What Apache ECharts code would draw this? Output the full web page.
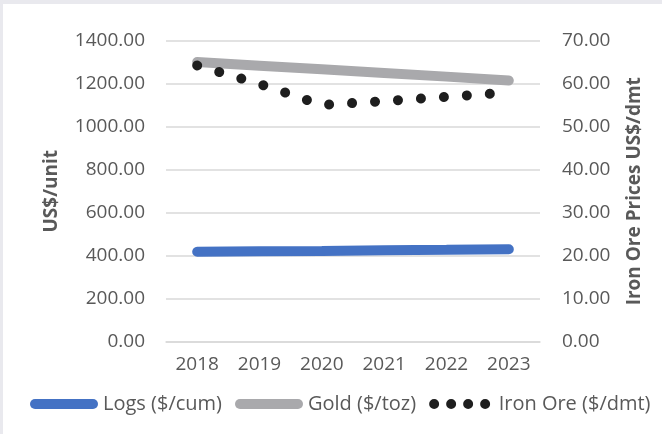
<!DOCTYPE html>
<html>
<head>
<meta charset="utf-8">
<script src="https://cdn.jsdelivr.net/npm/echarts@6/dist/echarts.min.js"></script>
<style>
  html, body { margin: 0; padding: 0; background: #e9e9ee; }
  #chart { position: absolute; left: 3px; top: 4px; width: 659px; height: 430px; background: #fff; }
</style>
</head>
<body>
<div id="chart"></div>
<script>
  // values
  var years = ['2018', '2019', '2020', '2021', '2022', '2023'];
  var logs = [418, 420, 422, 425, 427, 430];
  var gold = [1302, 1285, 1268, 1251, 1234, 1216];
  var ironOre = [64.3, 60.0, 55.1, 56.0, 57.0, 58.0];

  var myChart = echarts.init(document.getElementById('chart'));
  var labelColor = '#595959';
  var font = 'Open Sans';

  // legend icons: a pill for the solid lines, four dots for the dotted one
  var pillIcon = 'path://M5,0 H63 A5,5 0 0 1 63,10 H5 A5,5 0 0 1 5,0 Z';
  var dotsIcon = 'path://M0,5 A5,5 0 1 0 10,5 A5,5 0 1 0 0,5 Z' +
    'M17,5 A5,5 0 1 0 27,5 A5,5 0 1 0 17,5 Z' +
    'M34,5 A5,5 0 1 0 44,5 A5,5 0 1 0 34,5 Z' +
    'M51,5 A5,5 0 1 0 61,5 A5,5 0 1 0 51,5 Z';

  var option = {
    textStyle: { fontFamily: font },
    animation: false,
    grid: { left: 163, right: 122, top: 37, bottom: 92.5 },
    legend: {
      left: 27, top: 390, width: 640,
      padding: 0,
      itemWidth: 68, itemHeight: 10, itemGap: 13,
      textStyle: { color: labelColor, fontSize: 20, fontFamily: font },
      data: [
        { name: 'Logs ($/cum)', icon: pillIcon },
        { name: 'Gold ($/toz)', icon: pillIcon },
        { name: 'Iron Ore ($/dmt)', icon: dotsIcon }
      ]
    },
    xAxis: [{
      type: 'category',
      data: years,
      axisLine: { lineStyle: { color: '#d9d9d9', width: 1.5 } },
      axisTick: { show: false },
      axisLabel: { color: labelColor, fontSize: 19, margin: 14 }
    }],
    yAxis: [
      {
        type: 'value', min: 0, max: 1400, interval: 200,
        name: 'US$/unit', nameLocation: 'middle', nameGap: 105,
        nameTextStyle: { color: labelColor, fontSize: 19, fontWeight: 'bold' },
        axisLine: { show: false }, axisTick: { show: false },
        splitLine: { lineStyle: { color: '#d9d9d9', width: 1.5 } },
        axisLabel: { color: labelColor, fontSize: 19, margin: 21,
          formatter: function (v) { return v.toFixed(2); } }
      },
      {
        type: 'value', min: 0, max: 70, interval: 10,
        name: 'Iron Ore Prices US$/dmt', nameLocation: 'middle', nameGap: 85,
        nameTextStyle: { color: labelColor, fontSize: 19, fontWeight: 'bold' },
        axisLine: { show: false }, axisTick: { show: false },
        splitLine: { show: false },
        axisLabel: { color: labelColor, fontSize: 19, margin: 22,
          formatter: function (v) { return v.toFixed(2); } }
      }
    ],
    series: [
      {
        name: 'Logs ($/cum)', type: 'line', yAxisIndex: 0, data: logs,
        symbol: 'none', z: 3,
        lineStyle: { color: '#4472c4', width: 10, cap: 'round' },
        itemStyle: { color: '#4472c4' }
      },
      {
        name: 'Gold ($/toz)', type: 'line', yAxisIndex: 0, data: gold,
        symbol: 'none', z: 2,
        lineStyle: { color: '#a9a9ac', width: 10, cap: 'round' },
        itemStyle: { color: '#a9a9ac' }
      },
      {
        name: 'Iron Ore ($/dmt)', type: 'line', yAxisIndex: 1, data: ironOre,
        symbol: 'none', z: 4,
        lineStyle: { color: '#1e1e1e', width: 10, cap: 'round', type: [0.01, 23] },
        itemStyle: { color: '#1e1e1e' }
      }
    ]
  };
  myChart.setOption(option, true);
</script>
</body>
</html>
